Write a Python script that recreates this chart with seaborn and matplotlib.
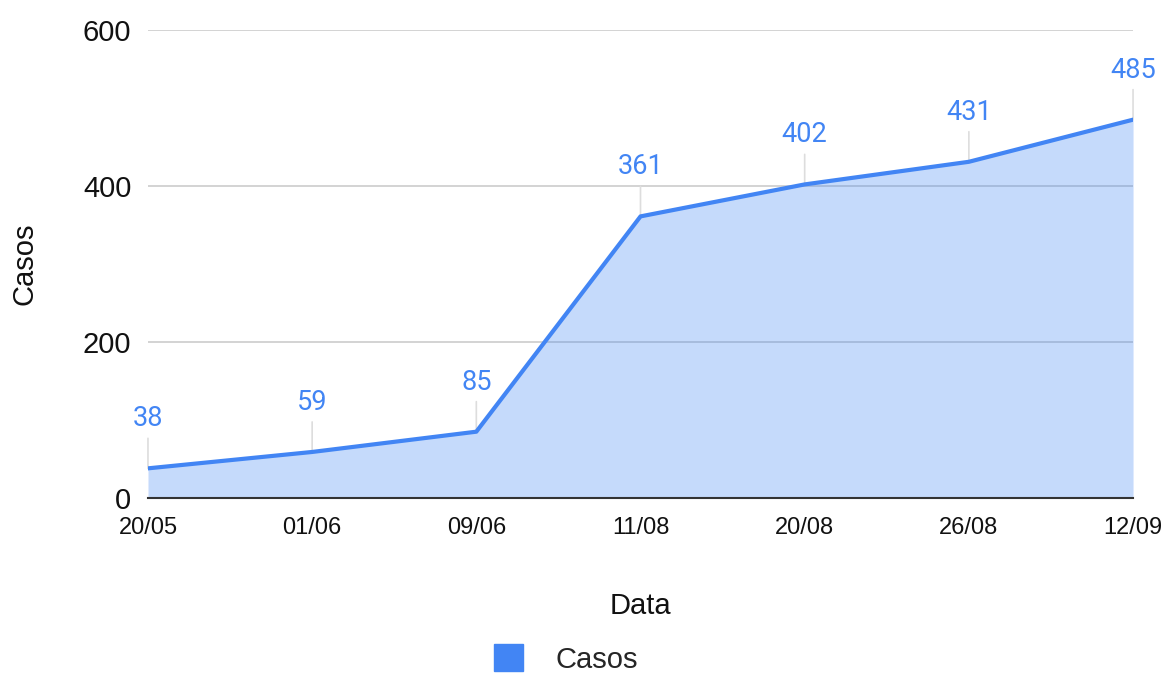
import pandas as pd
import matplotlib.pyplot as plt
import seaborn as sns
from matplotlib.patches import Patch

datas = ['20/05', '01/06', '09/06', '11/08', '20/08', '26/08', '12/09']
casos = [38, 59, 85, 361, 402, 431, 485]
y_ticks = [0, 200, 400, 600]

BLUE = '#4285f4'

sns.set_theme(style='white')
plt.rcParams['font.family'] = ['Liberation Sans', 'DejaVu Sans']

df = pd.DataFrame({'Data': datas, 'Casos': casos})

fig = plt.figure(figsize=(11.67, 6.78), dpi=100)
ax = fig.add_axes([0.1268, 0.2655, 0.8441, 0.6903])

ax.set_ylim(0, 600)
ax.set_yticks(y_ticks)
ax.grid(axis='y', color='#cccccc', linewidth=1.2)
ax.set_axisbelow(True)

ax.fill_between(df['Data'], df['Casos'], 0, color=BLUE, alpha=0.3, linewidth=0, zorder=2)
sns.lineplot(data=df, x='Data', y='Casos', ax=ax, color=BLUE, linewidth=3, zorder=3, sort=False)

for x, y in zip(df['Data'], df['Casos']):
    ax.annotate(str(y), xy=(x, y), xytext=(0, 26), textcoords='offset points',
                ha='center', va='bottom', fontsize=19.5, color=BLUE,
                family=['Roboto', 'DejaVu Sans'],
                arrowprops=dict(arrowstyle='-', color='#dddddd', lw=1.2,
                                shrinkA=2, shrinkB=0), zorder=1)

ax.set_xlim(0, len(datas) - 1)
for s in ['top', 'right', 'left']:
    ax.spines[s].set_visible(False)
ax.spines['bottom'].set_color('#333333')
ax.spines['bottom'].set_linewidth(1.5)
ax.spines['bottom'].set_zorder(4)

ax.tick_params(axis='y', labelsize=21, length=0, pad=12, colors='#111111')
ax.tick_params(axis='x', labelsize=17, length=0, pad=14, colors='#111111')
ax.set_xlabel('Data', fontsize=21, labelpad=38, color='#111111')
ax.set_ylabel('Casos', fontsize=21, labelpad=32, color='#111111')

handle = Patch(facecolor=BLUE, edgecolor=BLUE, label='Casos')
fig.legend(handles=[handle], loc='center', bbox_to_anchor=(0.485, 0.028),
           frameon=False, fontsize=21, handlelength=1.0, handleheight=1.0,
           handletextpad=1.1)

fig.savefig('out.png', dpi=100)
